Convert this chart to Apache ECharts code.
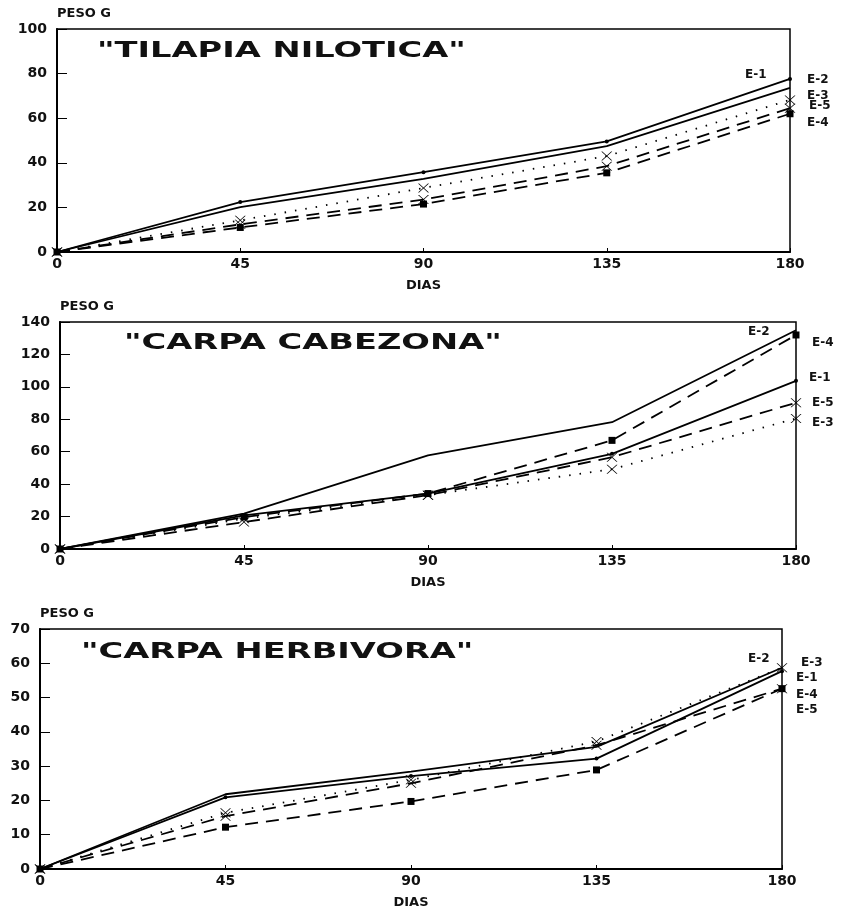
<!DOCTYPE html>
<html>
<head>
<meta charset="utf-8">
<script src="https://cdn.jsdelivr.net/npm/echarts@6/dist/echarts.min.js"></script>
<style>
html, body { margin: 0; padding: 0; background: #fff; }
#chart { width: 843px; height: 910px; }
</style>
</head>
<body>
<div id="chart"></div>
<script>
// dias de muestreo
const dias = [0, 45, 90, 135, 180];
const xTicks = [0, 45, 90, 135, 180];

// TILAPIA NILOTICA
const tilapiaTicks = [0, 20, 40, 60, 80, 100];
const tilapiaE1 = [0, 22.4, 35.8, 49.6, 77.6];
const tilapiaE2 = [0, 20.1, 32.8, 47.5, 73.6];
const tilapiaE3 = [0, 14.2, 28.7, 43.0, 68.2];
const tilapiaE4 = [0, 11.0, 21.5, 35.5, 62.0];
const tilapiaE5 = [0, 12.4, 23.5, 38.5, 64.5];

// CARPA CABEZONA
const cabezonaTicks = [0, 20, 40, 60, 80, 100, 120, 140];
const cabezonaE1 = [0, 20.7, 34.2, 58.7, 103.7];
const cabezonaE2 = [0, 21.8, 57.7, 78.2, 134.9];
const cabezonaE3 = [0, 18.7, 33.2, 49.2, 80.5];
const cabezonaE4 = [0, 19.7, 34.2, 67.0, 132.0];
const cabezonaE5 = [0, 16.6, 33.2, 56.6, 90.2];

// CARPA HERBIVORA
const herbivoraTicks = [0, 10, 20, 30, 40, 50, 60, 70];
const herbivoraE1 = [0, 20.9, 27.1, 32.2, 57.7];
const herbivoraE2 = [0, 21.8, 28.4, 35.6, 58.7];
const herbivoraE3 = [0, 16.4, 26.0, 37.2, 58.7];
const herbivoraE4 = [0, 12.2, 19.7, 28.9, 52.6];
const herbivoraE5 = [0, 15.4, 25.0, 36.1, 52.6];

const xMark = 'path://M0,0 L2,0 L10,8 L18,0 L20,0 L11,9 L20,18 L18,18 L10,10 L2,18 L0,18 L9,9 Z';

const estilos = {
    'E-1': { type: 'solid', symbol: 'circle', size: 4 },
    'E-2': { type: 'solid', symbol: 'none', size: 0 },
    'E-3': { type: [1.5, 9], symbol: xMark, size: [11, 9] },
    'E-4': { type: [13, 8], symbol: 'rect', size: 7 },
    'E-5': { type: [13, 8], symbol: xMark, size: [11, 9] }
};

const paneles = [
    {
        titulo: '"TILAPIA NILOTICA"', ticks: tilapiaTicks,
        grid: { left: 57, right: 53, top: 29, height: 223 },
        tituloPos: [97, 51],
        series: { 'E-1': tilapiaE1, 'E-2': tilapiaE2, 'E-3': tilapiaE3, 'E-4': tilapiaE4, 'E-5': tilapiaE5 },
        offsets: { 'E-1': [-53, -4], 'E-2': [9, -8], 'E-3': [9, -4], 'E-4': [9, 9], 'E-5': [11, -2] }
    },
    {
        titulo: '"CARPA CABEZONA"', ticks: cabezonaTicks,
        grid: { left: 60, right: 47, top: 322, height: 227 },
        tituloPos: [124, 343],
        series: { 'E-1': cabezonaE1, 'E-2': cabezonaE2, 'E-3': cabezonaE3, 'E-4': cabezonaE4, 'E-5': cabezonaE5 },
        offsets: { 'E-1': [5, -3], 'E-2': [-56, 2], 'E-3': [8, 4], 'E-4': [8, 8], 'E-5': [8, 0] }
    },
    {
        titulo: '"CARPA HERBIVORA"', ticks: herbivoraTicks,
        grid: { left: 40, right: 61, top: 629, height: 243 },
        tituloPos: [81, 652],
        series: { 'E-1': herbivoraE1, 'E-2': herbivoraE2, 'E-3': herbivoraE3, 'E-4': herbivoraE4, 'E-5': herbivoraE5 },
        offsets: { 'E-1': [6, 7], 'E-2': [-42, -9], 'E-3': [11, -5], 'E-4': [6, 6], 'E-5': [6, 21] }
    }
];

const fuente = 'DejaVu Sans';
const grids = [], xAxes = [], yAxes = [], series = [], graphics = [];

paneles.forEach(function (p, i) {
    grids.push(Object.assign({ show: true, borderColor: '#000', borderWidth: 1.5, backgroundColor: 'transparent' }, p.grid));
    xAxes.push({
        type: 'value', gridIndex: i,
        min: xTicks[0], max: xTicks[xTicks.length - 1], interval: xTicks[1] - xTicks[0],
        name: 'DIAS', nameLocation: 'middle', nameGap: 27,
        nameTextStyle: { fontFamily: fuente, fontSize: 13, fontWeight: 'bold', color: '#111' },
        axisLine: { lineStyle: { color: '#000', width: 2 } },
        axisTick: { inside: true, length: 4, lineStyle: { color: '#000' } },
        axisLabel: { fontFamily: fuente, fontSize: 14, fontWeight: 'bold', color: '#111', margin: 5 },
        splitLine: { show: false }
    });
    yAxes.push({
        type: 'value', gridIndex: i,
        min: p.ticks[0], max: p.ticks[p.ticks.length - 1], interval: p.ticks[1] - p.ticks[0],
        name: 'PESO G', nameLocation: 'end', nameGap: 9,
        nameTextStyle: { fontFamily: fuente, fontSize: 13, fontWeight: 'bold', color: '#111', align: 'left' },
        axisLine: { show: true, lineStyle: { color: '#000', width: 2 } },
        axisTick: { show: true, inside: true, length: 10, lineStyle: { color: '#000' } },
        axisLabel: { fontFamily: fuente, fontSize: 14, fontWeight: 'bold', color: '#111', margin: 10 },
        splitLine: { show: false }
    });
    Object.keys(p.series).forEach(function (nombre) {
        const e = estilos[nombre];
        series.push({
            name: nombre, type: 'line', xAxisIndex: i, yAxisIndex: i,
            data: dias.map(function (d, k) { return [d, p.series[nombre][k]]; }),
            symbol: e.symbol, symbolSize: e.size, showSymbol: e.symbol !== 'none',
            itemStyle: { color: '#000' },
            lineStyle: { color: '#000', width: 1.8, type: e.type },
            endLabel: {
                show: true, formatter: '{a}', offset: p.offsets[nombre],
                fontFamily: fuente, fontSize: 12, fontWeight: 'bold', color: '#111'
            }
        });
    });
    graphics.push({
        type: 'text', x: p.tituloPos[0], y: p.tituloPos[1], scaleX: 1.53,
        style: { text: p.titulo, font: 'bold 22px "DejaVu Sans"', fill: '#111', verticalAlign: 'middle' }
    });
});

echarts.init(document.getElementById('chart')).setOption({
    animation: false,
    grid: grids,
    xAxis: xAxes,
    yAxis: yAxes,
    series: series,
    graphic: graphics
});
</script>
</body>
</html>
